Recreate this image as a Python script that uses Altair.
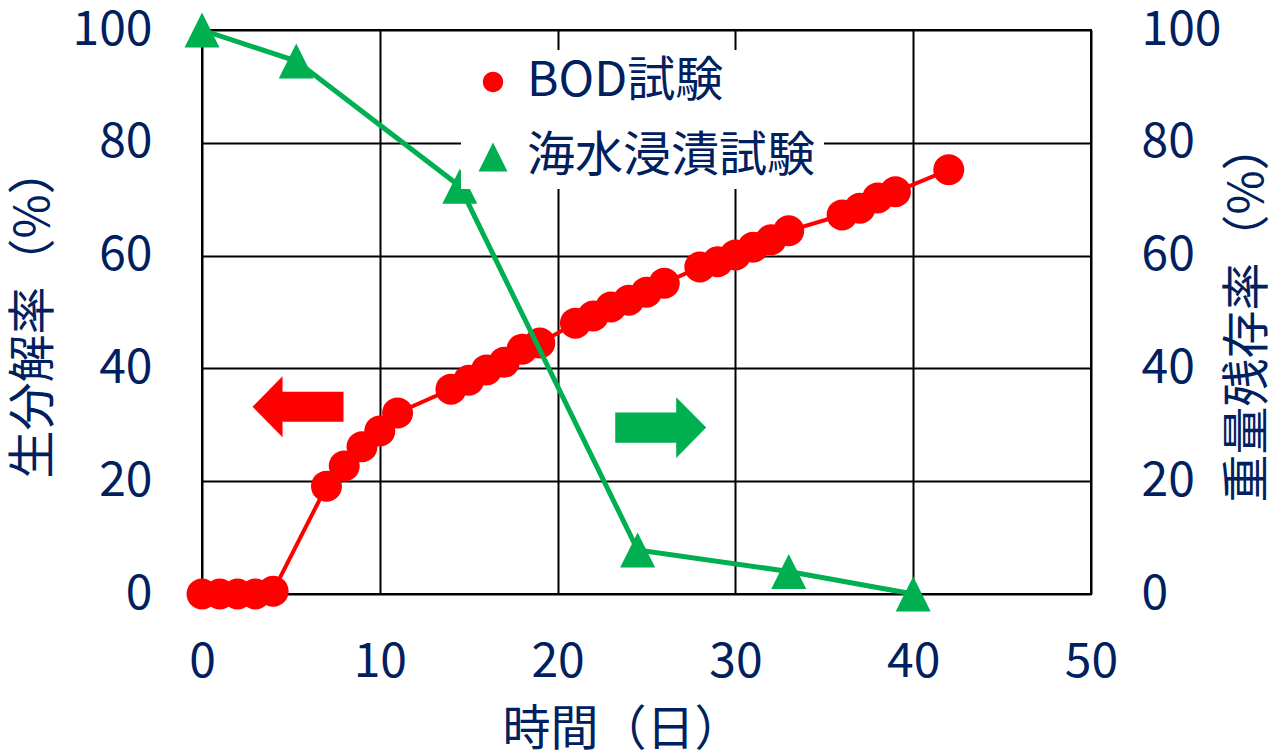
import altair as alt
import pandas as pd

FONT = "Noto Sans CJK JP"
TEXT = "#002060"

# ---- data ----
bod_day = [0, 1, 2, 3, 4, 7, 8, 9, 10, 11, 14, 15, 16, 17, 18, 19,
           21, 22, 23, 24, 25, 26, 28, 29, 30, 31, 32, 33, 36, 37, 38, 39, 42]
bod_val = [0, 0, 0, 0, 0.5, 19.1, 22.7, 26.1, 28.9, 32.1, 36.3, 37.9, 39.7, 41.1, 43.4, 44.5,
           48.0, 49.3, 50.9, 52.1, 53.5, 55.1, 58.0, 58.9, 60.1, 61.5, 62.8, 64.4, 67.2, 68.4, 70.2, 71.3, 75.2]
sea_day = [0, 5.3, 14.5, 24.5, 33, 40]
sea_val = [100, 94.5, 72.3, 7.8, 4.0, 0]
series_names = ["BOD試験", "海水浸漬試験"]
series_colors = ["#FF0000", "#00B050"]
arrow_day = [5.4, 25.8]
arrow_val = [33.2, 29.5]
x_ticks = [0, 10, 20, 30, 40, 50]
y_ticks = [0, 20, 40, 60, 80, 100]

# ---- symbols ----
CIRCLE = "M -0.7 0 A 0.7 0.7 0 1 0 0.7 0 A 0.7 0.7 0 1 0 -0.7 0 Z"
TRI = "M 0 -1 L 1 1 L -1 1 Z"
LEFT = "M -1 0 L -0.34 -0.67 L -0.34 -0.33 L 1 -0.33 L 1 0.33 L -0.34 0.33 L -0.34 0.67 Z"
RIGHT = "M 1 0 L 0.34 -0.67 L 0.34 -0.33 L -1 -0.33 L -1 0.33 L 0.34 0.33 L 0.34 0.67 Z"
arrow_shapes = [LEFT, RIGHT]

bod = pd.DataFrame({"day": bod_day, "value": bod_val, "series": series_names[0]})
sea = pd.DataFrame({"day": sea_day, "value": sea_val, "series": series_names[1]})
arrows = pd.DataFrame({"day": arrow_day, "value": arrow_val})

x_enc = alt.X("day:Q", scale=alt.Scale(domain=[0, 50], nice=False),
              axis=alt.Axis(values=x_ticks, title="時間（日）", grid=True, labelFlush=False,
                            labelPadding=44, titlePadding=20, titleX=420))
y_left = alt.Y("value:Q", scale=alt.Scale(domain=[0, 100], nice=False),
               axis=alt.Axis(values=y_ticks, title="生分解率（%）", grid=True, labelFlush=False,
                             labelPadding=50, titlePadding=14, orient="left"))
y_right = alt.Y("value:Q", scale=alt.Scale(domain=[0, 100], nice=False),
                axis=alt.Axis(values=y_ticks, title="重量残存率（%）", grid=False, labelFlush=False,
                              labelPadding=50, titlePadding=4, orient="right",
                              titleAngle=-90, titleBaseline="top"))

legend = alt.Legend(title=None, orient="none", legendX=259, legendY=20,
                    fillColor="white", padding=8, symbolSize=841, symbolStrokeWidth=0,
                    symbolOpacity=1, labelFontSize=48, labelColor=TEXT, labelFont=FONT,
                    rowPadding=27, labelOffset=10, labelLimit=600)
color = alt.Color("series:N", scale=alt.Scale(domain=series_names, range=series_colors), legend=legend)
shape = alt.Shape("series:N", scale=alt.Scale(domain=series_names, range=[CIRCLE, TRI]), legend=legend)

red_line = alt.Chart(bod).mark_line(color=series_colors[0], strokeWidth=4).encode(x=x_enc, y=y_left)
red_pts = alt.Chart(bod).mark_point(filled=True, opacity=1, size=1961, strokeWidth=0).encode(
    x=x_enc, y=y_left, color=color, shape=shape)
arrow_layers = [
    alt.Chart(arrows.iloc[[i]]).mark_point(filled=True, opacity=1, size=8281, strokeWidth=0,
                                           shape=arrow_shapes[i], color=series_colors[i]).encode(
        x=x_enc, y=y_left)
    for i in range(2)
]

green_line = alt.Chart(sea).mark_line(color=series_colors[1], strokeWidth=5).encode(x=x_enc, y=y_right)
green_pts = alt.Chart(sea).mark_point(filled=True, opacity=1, size=1225, strokeWidth=0).encode(
    x=x_enc, y=y_right, color=color, shape=shape)

left_group = alt.layer(red_line, red_pts, *arrow_layers)
right_group = alt.layer(green_line, green_pts)

chart = alt.layer(left_group, right_group).resolve_scale(y="independent").properties(
    width=889, height=564,
    autosize=alt.AutoSizeParams(type="none"),
    padding={"left": 202, "top": 30, "right": 188, "bottom": 160},
    background="white",
).configure_view(stroke="black", strokeWidth=2).configure_axis(
    labelFont=FONT, labelFontSize=48, labelColor=TEXT,
    titleFont=FONT, titleFontSize=48, titleColor=TEXT, titleFontWeight="normal",
    ticks=False, domain=False, gridColor="black", gridWidth=2, gridOpacity=1,
)

chart.save("out.html", embed_options={"renderer": "svg", "actions": False})
